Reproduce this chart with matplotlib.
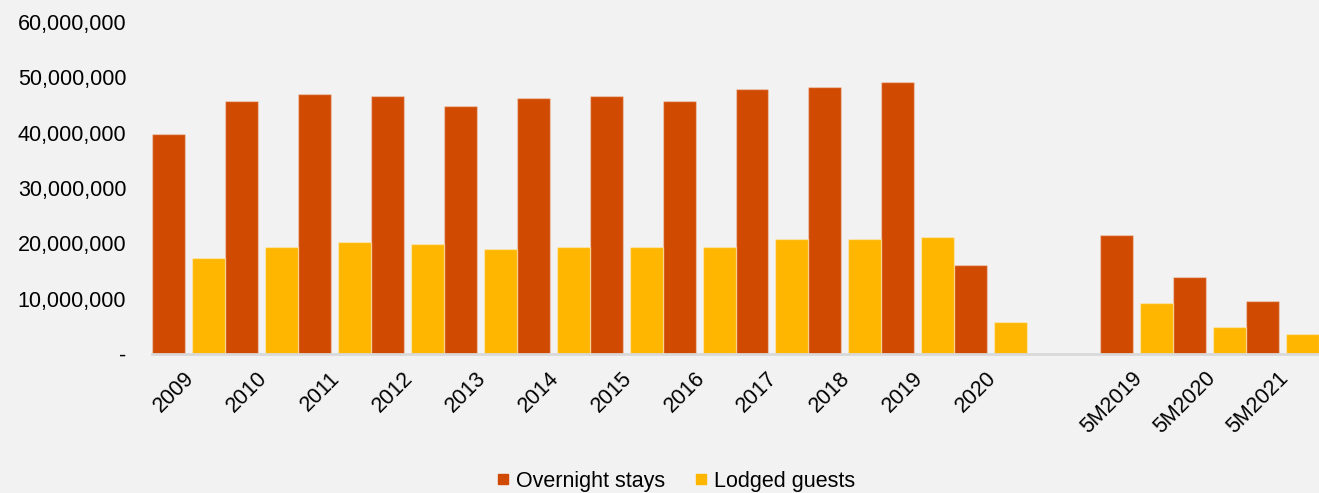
import numpy as np
import matplotlib
matplotlib.use("Agg")
import matplotlib.pyplot as plt
import matplotlib.transforms as mtransforms
from matplotlib.lines import Line2D
from matplotlib.ticker import FuncFormatter

BG = "#F2F2F2"
ORANGE = "#D04A02"
YELLOW = "#FFB600"

# Categories (the empty one is a spacer between yearly and 5-month data)
categories = ["2009", "2010", "2011", "2012", "2013", "2014", "2015", "2016",
              "2017", "2018", "2019", "2020", "", "5M2019", "5M2020", "5M2021"]
overnight_stays = [39.8, 45.7, 47.0, 46.6, 44.9, 46.2, 46.6, 45.75,
                   47.9, 48.3, 49.1, 16.0, np.nan, 21.5, 13.9, 9.6]   # millions
lodged_guests = [17.3, 19.3, 20.3, 19.9, 19.0, 19.35, 19.35, 19.35,
                 20.7, 20.7, 21.1, 5.8, np.nan, 9.2, 4.9, 3.6]        # millions

plt.rcParams['font.family'] = ['Liberation Sans', 'DejaVu Sans']

fig = plt.figure(figsize=(13.19, 4.93), dpi=100, facecolor=BG)
ax = fig.add_axes([152/1319, 1 - 354/493, 1 - 152/1319, (354 - 22)/493])
ax.set_facecolor(BG)

x = np.arange(len(categories))
w = 0.452
off = 0.274
edge = (1, 1, 1, 0.35)
ax.bar(x - off, np.array(overnight_stays) * 1e6, w, color=ORANGE,
       edgecolor=edge, linewidth=1, label="Overnight stays")
ax.bar(x + off, np.array(lodged_guests) * 1e6, w, color=YELLOW,
       edgecolor=edge, linewidth=1, label="Lodged guests")

ax.set_xlim(-0.5, len(categories) - 0.5)
ax.set_ylim(0, 60e6)
ax.set_yticks(np.arange(0, 60e6 + 1, 10e6))
ax.yaxis.set_major_formatter(FuncFormatter(lambda v, p: "-" if v == 0 else f"{v:,.0f}"))

ax.set_xticks(x)
ax.set_xticklabels(categories, rotation=45, ha="right", va="top",
                   rotation_mode="anchor")
ax.tick_params(axis="both", length=0, labelsize=15.5, colors="black")
ax.tick_params(axis="y", pad=18.5)
ax.tick_params(axis="x", pad=10)

# nudge rotated labels a little to the left
shift = mtransforms.ScaledTranslation(-5/100, 0, fig.dpi_scale_trans)
for lbl in ax.get_xticklabels():
    lbl.set_transform(lbl.get_transform() + shift)

for s in ["top", "right", "left"]:
    ax.spines[s].set_visible(False)
ax.spines["bottom"].set_color("#D9D9D9")
ax.spines["bottom"].set_linewidth(2)

handles = [Line2D([], [], marker="s", linestyle="none", markersize=7.5,
                  markerfacecolor=ORANGE, markeredgecolor=ORANGE),
           Line2D([], [], marker="s", linestyle="none", markersize=7.5,
                  markerfacecolor=YELLOW, markeredgecolor=YELLOW)]
fig.legend(handles, ["Overnight stays", "Lodged guests"], loc="center",
           bbox_to_anchor=(674.5/1319, 1 - 481/493), ncol=2, frameon=False,
           fontsize=15.5, handletextpad=0.2, columnspacing=1.27,
           handlelength=0.8)

fig.savefig("out.png", dpi=100, facecolor=BG)
